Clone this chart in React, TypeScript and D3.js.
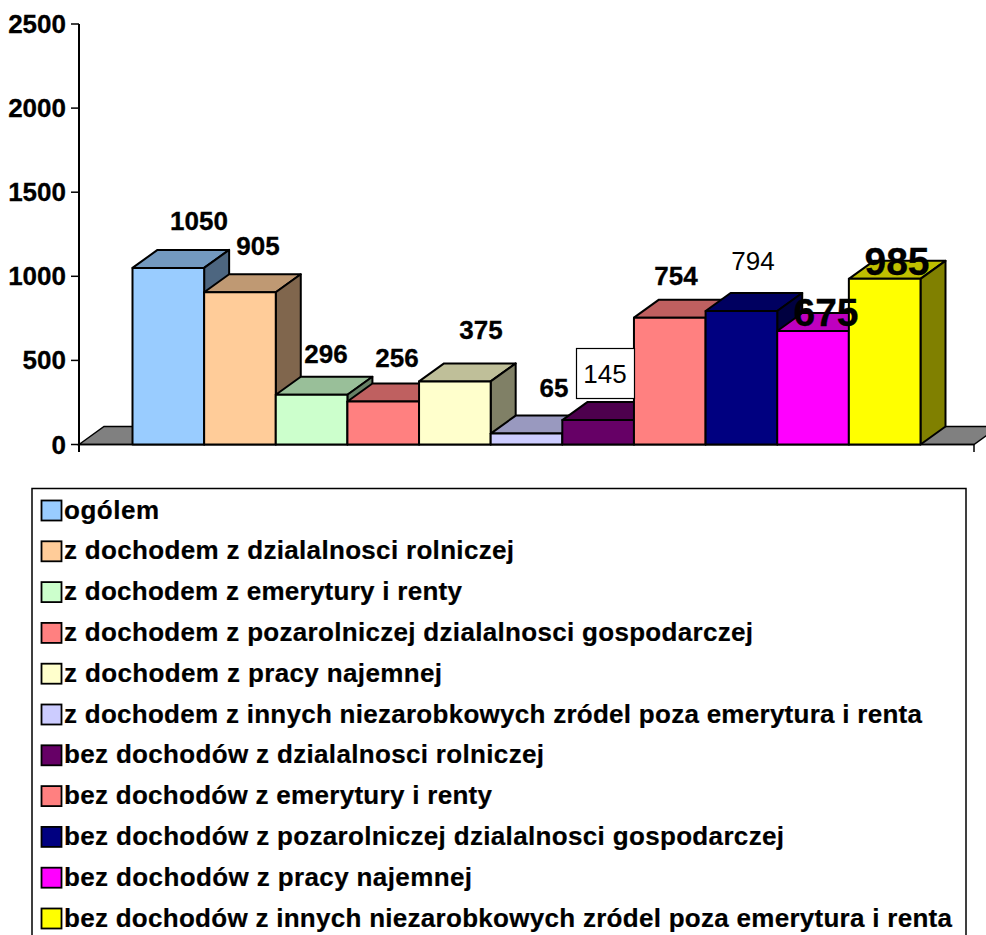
import React from "react";
import * as d3 from "d3";

const categories = [
  "ogólem",
  "z dochodem z dzialalnosci rolniczej",
  "z dochodem z emerytury i renty",
  "z dochodem z pozarolniczej dzialalnosci gospodarczej",
  "z dochodem z pracy najemnej",
  "z dochodem z innych niezarobkowych zródel poza emerytura i renta",
  "bez dochodów z dzialalnosci rolniczej",
  "bez dochodów z emerytury i renty",
  "bez dochodów z pozarolniczej dzialalnosci gospodarczej",
  "bez dochodów z pracy najemnej",
  "bez dochodów z innych niezarobkowych zródel poza emerytura i renta",
];
const values = [1050, 905, 296, 256, 375, 65, 145, 754, 794, 675, 985];
const colors = ["#99CCFF", "#FFCC99", "#CCFFCC", "#FF8080", "#FFFFCC", "#CCCCFF", "#660066", "#FF8080", "#000080", "#FF00FF", "#FFFF00"];
const yTicks = [0, 500, 1000, 1500, 2000, 2500];

// label layout, separate from the data: centre x, baseline y, font size, weight
const labelX = [199, 258, 326, 397, 481, 554, 605, 676, 753, 826, 897];
const labelY = [230, 255, 363, 367, 339, 397, 383, 285, 270, 326, 275];
const labelSize = [26, 26, 26, 26, 26, 26, 26, 26, 26, 39, 39];
const labelWeight = [700, 700, 700, 700, 700, 700, 400, 700, 400, 700, 700];
// right end of each legend text as drawn
const legendEnd = [159, 514, 462, 753, 442, 922, 544, 492, 784, 472, 952];

const FONT = "'Liberation Sans', Arial, sans-serif";
const DX = 25;
const DY = -18;

const y = d3.scaleLinear().domain([0, 2500]).range([444.5, 24]);
const x = d3.scaleBand<number>().domain(values.map((_, i) => i)).range([132.5, 920.5]).padding(0);
const legendY = d3.scalePoint<number>().domain(categories.map((_, i) => i)).range([510.5, 918.5]);

const shade = (c: string, k: number) => {
  const r = d3.rgb(c);
  return d3.rgb(r.r * k, r.g * k, r.b * k).formatHex();
};
const poly = (pts: [number, number][]) => d3.line()(pts) + "Z";

export default function App() {
  const y0 = y(0);
  return (
    <svg width={986} height={935} viewBox="0 0 986 935"
      style={{ position: "absolute", left: 0, top: 0, display: "block", background: "#fff", fontFamily: FONT }}>
      {/* floor */}
      <path d={poly([[79, y0], [79 + DX, y0 + DY], [974 + DX, y0 + DY], [974, y0]])} fill="#808080" stroke="#000" strokeWidth={1.5} />

      {/* axes */}
      <line x1={79} x2={79} y1={y(2500)} y2={452} stroke="#000" strokeWidth={2} />
      <line x1={79} x2={974} y1={y0} y2={y0} stroke="#000" strokeWidth={1.5} />
      <line x1={974} x2={974} y1={y0} y2={452} stroke="#000" strokeWidth={1.5} />
      {yTicks.map((t) => (
        <g key={t}>
          <line x1={71} x2={79} y1={y(t)} y2={y(t)} stroke="#000" strokeWidth={1.5} />
          <text x={66} y={y(t) + 9} textAnchor="end" fontSize={26} fontWeight={700} stroke="#000" strokeWidth={0.3}>{t}</text>
        </g>
      ))}

      {/* bars */}
      {values.map((v, i) => {
        const l = x(i)!;
        const r = l + x.bandwidth();
        const t = y(v);
        return (
          <g key={i} stroke="#000" strokeWidth={2} strokeLinejoin="round">
            <path d={poly([[l, t], [l + DX, t + DY], [r + DX, t + DY], [r, t]])} fill={shade(colors[i], 0.75)} />
            <path d={poly([[r, t], [r + DX, t + DY], [r + DX, y0 + DY], [r, y0]])} fill={shade(colors[i], 0.5)} />
            <rect x={l} y={t} width={r - l} height={y0 - t} fill={colors[i]} />
          </g>
        );
      })}

      {/* data labels */}
      <rect x={576.5} y={348.5} width={58} height={50} fill="#fff" stroke="#000" strokeWidth={1.2} />
      {values.map((v, i) => (
        <text key={i} x={labelX[i]} y={labelY[i]} textAnchor="middle" fontSize={labelSize[i]} fontWeight={labelWeight[i]}
          stroke={labelWeight[i] === 700 ? "#000" : "none"} strokeWidth={0.3}>{v}</text>
      ))}

      {/* legend */}
      <rect x={32} y={488.5} width={934} height={470} fill="none" stroke="#000" strokeWidth={1.5} />
      {categories.map((c, i) => {
        const cy = legendY(i)!;
        return (
          <g key={i}>
            <rect x={41.5} y={cy - 10} width={20} height={20} fill={colors[i]} stroke="#000" strokeWidth={1.8} />
            <text x={64} y={cy + 8} fontSize={26} fontWeight={700} stroke="#000" strokeWidth={0.2}
              textLength={legendEnd[i] - 64} lengthAdjust="spacing">{c}</text>
          </g>
        );
      })}
    </svg>
  );
}
